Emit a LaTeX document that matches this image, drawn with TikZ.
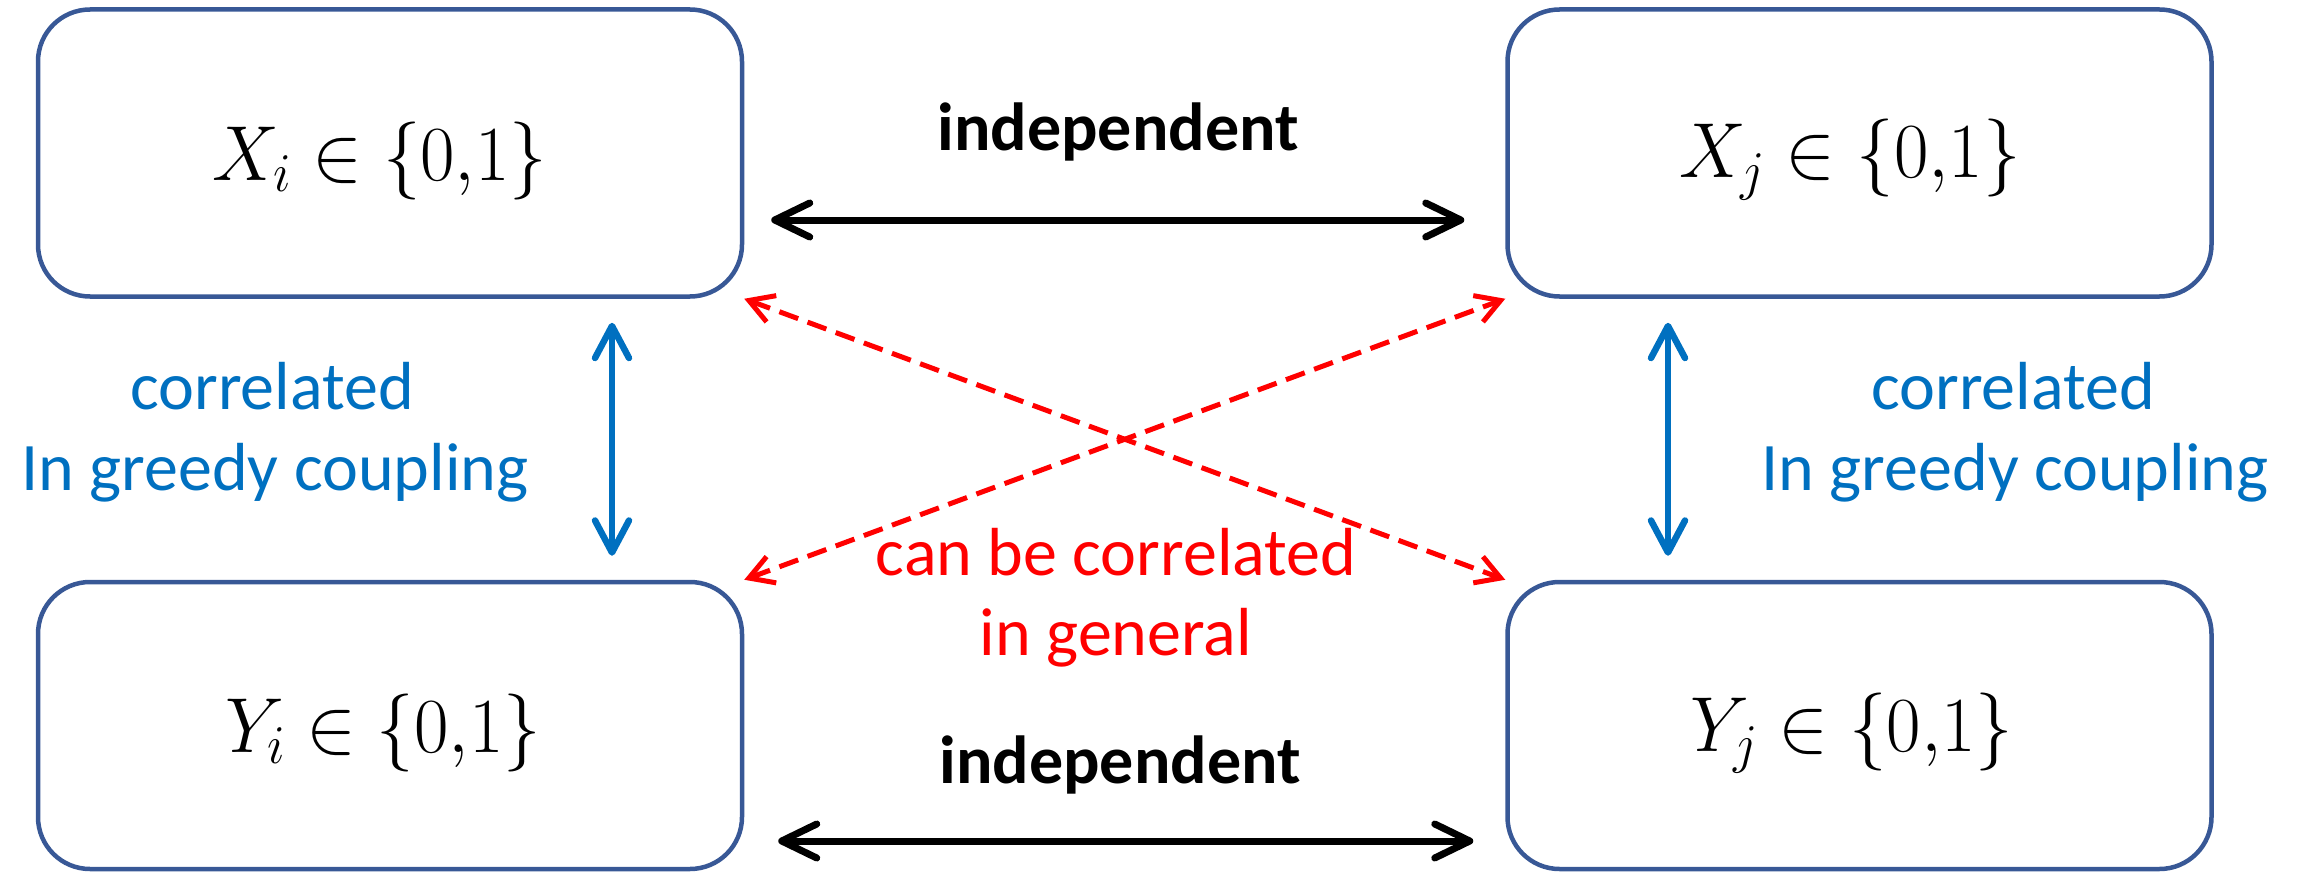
\RequirePackage{fix-cm}
\documentclass[tikz,border=0pt]{standalone}
\usepackage[no-math]{fontspec}
\setmainfont{Carlito}
\usetikzlibrary{arrows.meta}
\definecolor{boxblue}{RGB}{56,88,150}
\definecolor{linkblue}{RGB}{0,112,192}
\definecolor{crossred}{RGB}{255,0,0}

\begin{document}
\begin{tikzpicture}[x=1pt,y=-1pt,
  varbox/.style={draw=boxblue, line width=4.5pt, rounded corners=52pt,
    minimum width=704pt, minimum height=287pt, inner sep=0pt},
  vartext/.style={anchor=base, inner sep=0pt, font=\fontsize{78}{90}\selectfont},
  indep/.style={black, line width=7pt,
    {Straight Barb[length=35pt,width=34pt,round]}-{Straight Barb[length=35pt,width=34pt,round]}},
  corr/.style={linkblue, line width=6.5pt,
    {Straight Barb[length=32pt,width=34pt,round]}-{Straight Barb[length=32pt,width=34pt,round]}},
  cross/.style={crossred, line width=5pt, dash pattern=on 20pt off 10pt,
    {Straight Barb[length=24pt,width=28pt]}-{Straight Barb[length=24pt,width=28pt]}},
  lbl/.style={anchor=base, inner sep=0pt, font=\fontsize{68}{80}\selectfont}
]
\useasboundingbox (0,0) rectangle (2303,872);

% the four random variables
\node[varbox] (xi) at (390,153) {};
\node[varbox] (xj) at (1859.5,153) {};
\node[varbox] (yi) at (390,725.5) {};
\node[varbox] (yj) at (1859.5,725.5) {};

\node[vartext] (txi) at (380,180) {\scalebox{0.96}[1]{$X_i \in \{0{,}1\}$}};
\node[vartext] (txj) at (1850,178) {\scalebox{0.96}[1]{$X_j \in \{0{,}1\}$}};
\node[vartext] (tyi) at (383,752) {\scalebox{0.96}[1]{$Y_i \in \{0{,}1\}$}};
\node[vartext] (tyj) at (1852,751) {\scalebox{0.96}[1]{$Y_j \in \{0{,}1\}$}};

% independence between i and j
\draw[indep, shorten <=27pt, shorten >=41pt] ([yshift=-67pt]xi.east) -- ([yshift=-67pt]xj.west);
\draw[indep, shorten <=34pt, shorten >=32pt] ([yshift=-115.5pt]yi.east) -- ([yshift=-115.5pt]yj.west);
\node[lbl, font=\fontsize{68}{80}\selectfont\bfseries] (ind1) at (1118,151) {independent};
\node[lbl, font=\fontsize{68}{80}\selectfont\bfseries] (ind2) at (1120,783) {independent};

% coupling between X and Y
\draw[corr, shorten <=24pt, shorten >=24pt] ([xshift=222pt]xi.south) -- ([xshift=222pt]yi.north);
\draw[corr, shorten <=24pt, shorten >=24pt] ([xshift=-191.5pt]xj.south) -- ([xshift=-191.5pt]yj.north);
\node[lbl, linkblue] (c1a) at (272,409) {correlated};
\node[lbl, linkblue] (c1b) at (275,490) {In greedy coupling};
\node[lbl, linkblue] (c2a) at (2013,409) {correlated};
\node[lbl, linkblue] (c2b) at (2015,490) {In greedy coupling};

% cross dependencies
\draw[cross] (xi.south east) -- (yj.north west);
\draw[cross] (yi.north east) -- (xj.south west);
\node[lbl, crossred] (g1) at (1116,575) {can be correlated};
\node[lbl, crossred] (g2) at (1116,655) {in general};
\end{tikzpicture}
\end{document}
